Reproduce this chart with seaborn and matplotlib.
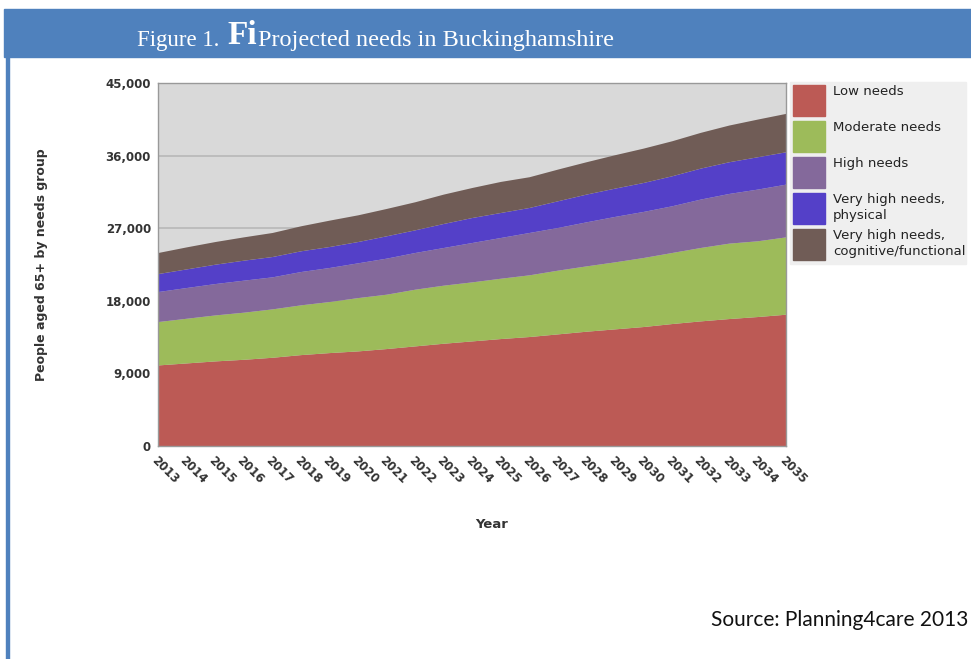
import matplotlib
matplotlib.use("Agg")
import matplotlib.pyplot as plt
import numpy as np
import pandas as pd
import seaborn as sns
from matplotlib.patches import Rectangle

years = list(range(2013, 2036))
low_needs = [10050, 10300, 10550, 10750, 11000, 11330, 11580, 11790, 12080, 12410, 12740, 13030,
             13320, 13570, 13900, 14230, 14520, 14810, 15180, 15510, 15800, 16050, 16340]
moderate_needs = [5380, 5540, 5700, 5840, 6000, 6170, 6330, 6610, 6740, 7030, 7200, 7320,
                  7480, 7650, 7900, 8100, 8310, 8560, 8810, 9100, 9350, 9390, 9590]
high_needs = [3720, 3810, 3890, 3970, 3970, 4130, 4220, 4310, 4470, 4550, 4670, 4880,
              5050, 5250, 5290, 5460, 5630, 5710, 5790, 6000, 6160, 6410, 6540]
very_high_physical = [2230, 2310, 2400, 2480, 2520, 2570, 2600, 2640, 2770, 2810, 2980, 3100,
                      3100, 3100, 3310, 3440, 3510, 3590, 3720, 3840, 3930, 4010, 4010]
very_high_cognitive = [2610, 2730, 2810, 2890, 2980, 3100, 3270, 3310, 3390, 3480, 3640, 3720,
                       3850, 3810, 3930, 4010, 4140, 4260, 4340, 4430, 4550, 4670, 4760]

group_labels = ["Low needs", "Moderate needs", "High needs",
                "Very high needs,\nphysical", "Very high needs,\ncognitive/functional"]
group_colors = ["#bc5a55", "#9dbb5a", "#84699b", "#5440c8", "#705c56"]
y_ticks = [0, 9000, 18000, 27000, 36000, 45000]

df = pd.DataFrame({
    "year": years,
    group_labels[0]: low_needs,
    group_labels[1]: moderate_needs,
    group_labels[2]: high_needs,
    group_labels[3]: very_high_physical,
    group_labels[4]: very_high_cognitive,
})

sns.set_style("white")
plt.rcParams["font.family"] = ["DejaVu Sans"]

fig = plt.figure(figsize=(9.71, 6.59), dpi=100)

# header band and left rule
fig.add_artist(Rectangle((4 / 971, 1 - 57 / 659), 967 / 971, 48 / 659,
                         transform=fig.transFigure, color="#4f81bd", zorder=0))
fig.add_artist(Rectangle((6 / 971, 0), 3 / 971, 1 - 57 / 659,
                         transform=fig.transFigure, color="#4f81bd", zorder=0))
serif = ["Liberation Serif"]
t1 = fig.text(137 / 971, 1 - 46 / 659, "Figure 1. ", color="white", fontsize=16.5,
              family=serif, va="baseline", ha="left")
t2 = fig.add_artist(matplotlib.text.Annotation(
    "Fi", xy=(1, 0), xycoords=t1, xytext=(2, 0), textcoords="offset points",
    color="white", fontsize=24, fontweight="bold", family=serif, va="bottom", ha="left"))
fig.add_artist(matplotlib.text.Annotation(
    "Projected needs in Buckinghamshire", xy=(1, 0), xycoords=t2, color="white",
    fontsize=17.5, family=serif, va="bottom", ha="left"))

ax = fig.add_axes([158 / 971, 1 - 446 / 659, 628 / 971, 363 / 659])
ax.set_facecolor("#d9d9d9")
ax.stackplot(df["year"], [df[c] for c in group_labels], colors=group_colors,
             linewidth=0, zorder=2)
ax.set_xlim(2013, 2035)
ax.set_ylim(0, 45000)
ax.set_yticks(y_ticks)
ax.set_yticklabels([f"{v:,}" for v in y_ticks], fontsize=8.5, fontweight="bold", color="#333333")
ax.set_xticks(years)
ax.set_xticklabels([str(y) for y in years], rotation=-45, ha="left", va="top",
                   rotation_mode="anchor", fontsize=8.5, fontweight="bold", color="#333333")
ax.yaxis.grid(True, color="#b8b8b8", linewidth=1.2, zorder=1)
ax.set_axisbelow(True)
ax.tick_params(axis="x", direction="out", length=4, width=1.5, color="black", pad=2)
ax.tick_params(axis="y", direction="out", length=3, width=1.5, color="black", pad=2)
for side in ["left", "top", "right", "bottom"]:
    ax.spines[side].set_color("#999999")
    ax.spines[side].set_linewidth(1)
ax.set_xlabel("Year", fontsize=9.5, fontweight="bold", color="#333333")
ax.xaxis.set_label_coords(0.532, -0.198)
ax.set_ylabel("People aged 65+ by needs group", fontsize=9, fontweight="bold",
              color="#333333")
ax.yaxis.set_label_coords(-0.175, 0.5)

# legend drawn as a panel beside the plot
fig.add_artist(Rectangle((790 / 971, 1 - 264 / 659), 176 / 971, 182 / 659,
                         transform=fig.transFigure, color="#efefef", zorder=1))
for i, (lab, col) in enumerate(zip(group_labels, group_colors)):
    top = 84 + 36 * i
    fig.add_artist(Rectangle((793 / 971, 1 - (top + 32) / 659), 32 / 971, 31 / 659,
                             transform=fig.transFigure, color=col, zorder=2))
    fig.text(833 / 971, 1 - (top + 1) / 659, lab, fontsize=9.5, color="#222222",
             va="top", ha="left", linespacing=1.25, zorder=3)

fig.text(968 / 971, 1 - 620 / 659, "Source: Planning4care 2013", fontsize=15,
         family=["Lato", "DejaVu Sans"], ha="right", va="center", color="#111111")

fig.savefig("out.png", dpi=100)
